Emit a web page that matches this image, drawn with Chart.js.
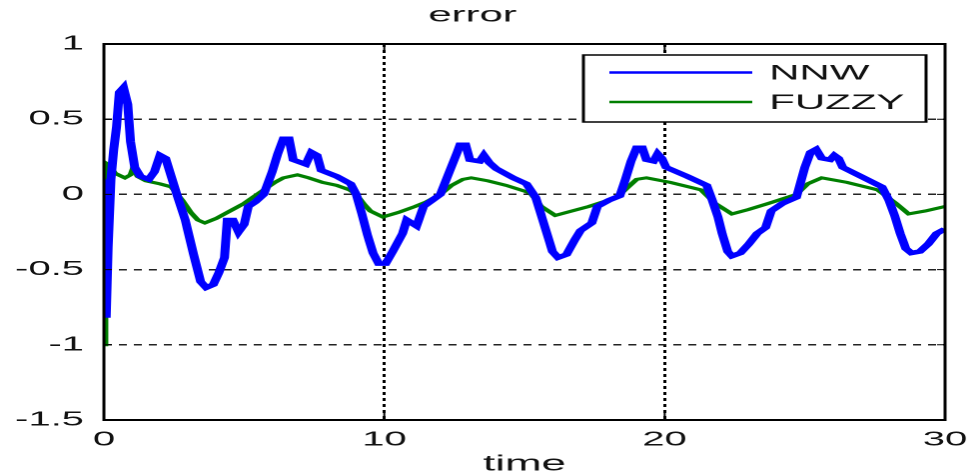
<!DOCTYPE html>
<html>
<head>
<meta charset="utf-8">
<title>error</title>
<script src="https://cdn.jsdelivr.net/npm/chart.js@4.4.1/dist/chart.umd.min.js"></script>
<style>
  html, body { margin: 0; padding: 0; background: #fff; overflow: hidden; }
  /* the figure is stretched horizontally, like the reference */
  #stretch { width: 485px; height: 476px; transform: scaleX(1.99794); transform-origin: 0 0; }
  #box { position: relative; width: 485px; height: 476px; }
</style>
</head>
<body>
<div id="stretch">
  <div id="box"><canvas id="errorChart"></canvas></div>
</div>
<script>
const nnwTime = [
  0, 0.08, 0.15, 0.25, 0.35, 0.45, 0.55, 0.7, 0.85, 0.95, 1.1, 1.3, 1.6, 1.8, 2.0, 2.2, 2.4, 2.6, 2.9,
  3.2, 3.45, 3.65, 3.9, 4.1, 4.3, 4.4, 4.6, 4.8, 5.0, 5.15, 5.4, 5.7, 6.0, 6.2, 6.4, 6.6, 6.75, 7.2,
  7.4, 7.6, 7.75, 8.3, 8.8, 9.0, 9.2, 9.4, 9.6, 9.8, 10.05, 10.3, 10.65, 10.8, 11.15, 11.4, 11.7, 12.0,
  12.3, 12.6, 12.7, 12.9, 13.05, 13.4, 13.55, 13.75, 14.0, 14.6, 15.07, 15.4, 15.6, 15.8, 16.0, 16.2,
  16.5, 16.8, 17.0, 17.4, 17.6, 18.0, 18.4, 18.6, 18.8, 19.0, 19.2, 19.35, 19.6, 19.75, 19.9, 20.05,
  20.8, 21.5, 21.7, 21.9, 22.05, 22.25, 22.4, 22.7, 23.0, 23.3, 23.6, 23.8, 24.2, 24.7, 24.85, 25.0,
  25.2, 25.4, 25.6, 25.9, 26.05, 26.2, 26.35, 27.0, 27.75, 28.0, 28.2, 28.4, 28.6, 28.8, 29.1, 29.4,
  29.7, 30,
];
const nnwError = [
  0.1, -0.82, -0.35, 0.1, 0.3, 0.45, 0.68, 0.71, 0.6, 0.35, 0.18, 0.12, 0.1, 0.15, 0.26, 0.24, 0.12, 0.0, -0.17,
  -0.4, -0.58, -0.62, -0.6, -0.52, -0.42, -0.17, -0.17, -0.25, -0.2, -0.08, -0.05, 0.0, 0.15, 0.27, 0.37, 0.37, 0.23, 0.2,
  0.28, 0.26, 0.16, 0.12, 0.07, 0.0, -0.13, -0.27, -0.39, -0.46, -0.46, -0.38, -0.26, -0.17, -0.21, -0.08, -0.04, 0.0,
  0.14, 0.28, 0.33, 0.33, 0.23, 0.22, 0.26, 0.21, 0.17, 0.11, 0.07, -0.02, -0.14, -0.26, -0.38, -0.42,
  -0.4, -0.3, -0.24, -0.19, -0.08, -0.04, -0.01, 0.1, 0.22, 0.31, 0.31, 0.23, 0.22, 0.27, 0.24, 0.18,
  0.12, 0.06, -0.04, -0.15, -0.26, -0.38, -0.41, -0.39, -0.33, -0.26, -0.22, -0.11, -0.06, -0.02, 0.08, 0.18,
  0.28, 0.3, 0.24, 0.23, 0.26, 0.24, 0.18, 0.12, 0.05, -0.04, -0.14, -0.26, -0.36, -0.39, -0.38, -0.33,
  -0.26, -0.23,
];

const fuzzyTime = [
  0, 0.05, 0.15, 0.4, 0.75, 0.95, 1.05, 1.2, 1.5, 2.0, 2.4, 2.8, 3.1, 3.35, 3.6, 4.0, 4.5, 5.0, 5.7,
  6.1, 6.4, 6.9, 7.3, 7.8, 8.3, 8.76, 9.0, 9.3, 9.5, 9.95, 10.5, 11.1, 11.5, 12.0, 12.4, 12.8, 13.1,
  13.7, 14.35, 15.2, 15.6, 16.1, 16.7, 17.3, 18.3, 18.7, 19.0, 19.35, 20.2, 21.3, 21.8, 22.4, 23.0,
  23.7, 24.7, 25.1, 25.6, 26.5, 27.6, 28.25, 28.7, 29.3, 30,
];
const fuzzyError = [
  -1, 0.21, 0.2, 0.14, 0.11, 0.13, 0.18, 0.12, 0.09, 0.07, 0.05, -0.04, -0.12, -0.17, -0.19, -0.16, -0.11, -0.06, 0.03,
  0.08, 0.11, 0.13, 0.11, 0.08, 0.06, 0.03, 0.0, -0.07, -0.11, -0.15, -0.12, -0.08, -0.05, 0.0, 0.06, 0.1, 0.11,
  0.09, 0.06, 0.01, -0.08, -0.14, -0.11, -0.08, -0.02, 0.05, 0.1, 0.11, 0.08, 0.03, -0.06, -0.13, -0.1,
  -0.06, 0.0, 0.07, 0.11, 0.08, 0.03, -0.06, -0.13, -0.11, -0.08,
];

const xGridValues = [10, 20];
const yGridValues = [0.5, 0, -0.5, -1];

const fontFamily = "'Liberation Sans', Arial, sans-serif";

function toPoints(xs, ys) {
  return xs.map((x, i) => ({ x, y: ys[i] }));
}

// black box around the axes, with matlab style inward ticks
const axesBox = {
  id: "axesBox",
  afterDatasetsDraw(chart) {
    const { ctx, chartArea: a, scales } = chart;
    ctx.save();
    ctx.strokeStyle = "#000";
    ctx.lineWidth = 1;
    yGridValues.forEach((v) => {
      const y = scales.y.getPixelForValue(v);
      ctx.beginPath();
      ctx.moveTo(a.left, y);
      ctx.lineTo(a.left + 4, y);
      ctx.moveTo(a.right, y);
      ctx.lineTo(a.right - 4, y);
      ctx.stroke();
    });
    xGridValues.forEach((v) => {
      const x = scales.x.getPixelForValue(v);
      ctx.beginPath();
      ctx.moveTo(x, a.bottom);
      ctx.lineTo(x, a.bottom - 8);
      ctx.moveTo(x, a.top);
      ctx.lineTo(x, a.top + 8);
      ctx.stroke();
    });
    ctx.lineWidth = 2;
    ctx.beginPath();
    ctx.moveTo(a.left, a.top);
    ctx.lineTo(a.right, a.top);
    ctx.moveTo(a.left, a.bottom);
    ctx.lineTo(a.right, a.bottom);
    ctx.stroke();
    ctx.lineWidth = 1.5;
    ctx.beginPath();
    ctx.moveTo(a.left, a.top - 1);
    ctx.lineTo(a.left, a.bottom + 1);
    ctx.moveTo(a.right, a.top - 1);
    ctx.lineTo(a.right, a.bottom + 1);
    ctx.stroke();
    ctx.restore();
  },
};

// legend box in the upper right corner of the axes
const boxLegend = {
  id: "boxLegend",
  afterDraw(chart) {
    const { ctx } = chart;
    const left = 292;
    const top = 55;
    const width = 171.5;
    const height = 67;
    ctx.save();
    ctx.fillStyle = "#fff";
    ctx.fillRect(left, top, width, height);
    ctx.strokeStyle = "#000";
    ctx.lineWidth = 1.5;
    ctx.strokeRect(left, top, width, height);
    chart.data.datasets.forEach((ds, i) => {
      const y = 72.5 + i * 29.5;
      ctx.strokeStyle = ds.borderColor;
      ctx.lineWidth = 2.5;
      ctx.beginPath();
      ctx.moveTo(305, y);
      ctx.lineTo(376.5, y);
      ctx.stroke();
      ctx.fillStyle = "#111";
      ctx.font = `21px ${fontFamily}`;
      ctx.textBaseline = "middle";
      ctx.fillText(ds.label, 385, y + 1);
    });
    ctx.restore();
  },
};

function setupChart() {
  const canvas = document.getElementById("errorChart");

  return new Chart(canvas, {
    type: "line",
    data: {
      datasets: [
        {
          label: "NNW",
          data: toPoints(nnwTime, nnwError),
          borderColor: "#0000ff",
          borderWidth: 4.5,
          pointRadius: 0,
          tension: 0,
          borderJoinStyle: "miter",
        },
        {
          label: "FUZZY",
          data: toPoints(fuzzyTime, fuzzyError),
          borderColor: "#007f00",
          borderWidth: 3,
          pointRadius: 0,
          tension: 0,
        },
      ],
    },
    options: {
      responsive: true,
      maintainAspectRatio: false,
      animation: false,
      devicePixelRatio: 2,
      layout: { padding: { left: 0, right: 12, top: 0, bottom: 0 } },
      plugins: {
        legend: { display: false },
        tooltip: { enabled: false },
        title: {
          display: true,
          text: "error",
          color: "#111",
          font: { family: fontFamily, size: 21, weight: "normal", lineHeight: 1 },
          padding: { top: 5, bottom: 18 },
        },
      },
      scales: {
        x: {
          type: "linear",
          min: 0,
          max: 30,
          afterFit: (scale) => {
            scale.height = 56;
            scale.paddingLeft = 0;
            scale.paddingRight = 0;
          },
          ticks: {
            stepSize: 10,
            padding: 8,
            color: "#111",
            maxRotation: 0,
            font: { family: fontFamily, size: 20 },
          },
          grid: {
            drawTicks: false,
            lineWidth: 1.5,
            color: (c) => (xGridValues.includes(c.tick.value) ? "#000" : "rgba(0,0,0,0)"),
          },
          border: { display: false, dash: [3, 3] },
          title: {
            display: true,
            text: "time",
            color: "#111",
            font: { family: fontFamily, size: 22, lineHeight: 1.05 },
            padding: { top: 0, bottom: 0 },
          },
        },
        y: {
          min: -1.5,
          max: 1,
          afterFit: (scale) => {
            scale.width = 52;
          },
          ticks: {
            stepSize: 0.5,
            padding: 10,
            color: "#111",
            font: { family: fontFamily, size: 20 },
            callback: (value) => `${value}`,
          },
          grid: {
            drawTicks: false,
            lineWidth: 1.5,
            color: (c) => (yGridValues.includes(c.tick.value) ? "#222" : "rgba(0,0,0,0)"),
          },
          border: { display: false, dash: [4, 3.5] },
        },
      },
    },
    plugins: [axesBox, boxLegend],
  });
}

window.addEventListener("DOMContentLoaded", () => {
  setupChart();
});
</script>
</body>
</html>
